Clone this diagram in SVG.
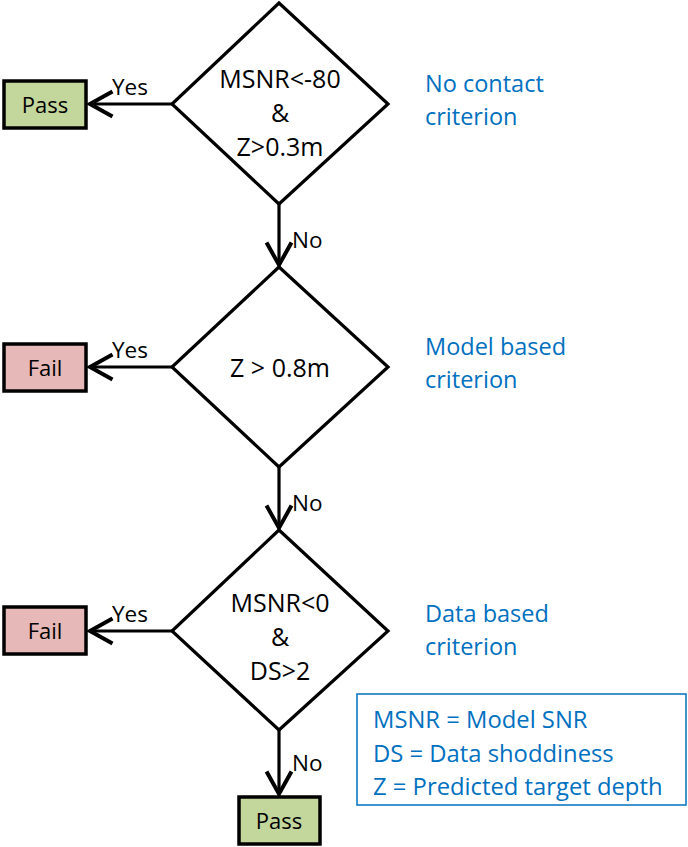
<svg xmlns="http://www.w3.org/2000/svg" width="688" height="847" viewBox="0 0 688 847">
<defs>
<marker id="arr" markerUnits="userSpaceOnUse" markerWidth="30" markerHeight="30" viewBox="-20 -12 24 24" refX="0" refY="0" orient="auto">
<polyline points="-18,-10 0,0 -18,10" fill="none" stroke="#000" stroke-width="3.2" stroke-linejoin="miter"/>
</marker>
</defs>
<style>
.d{fill:#fff;stroke:#000;stroke-width:3.2;stroke-linejoin:miter}
.pass{fill:#c3d69b;stroke:#000;stroke-width:3.5}
.fail{fill:#e6b9b8;stroke:#000;stroke-width:3.5}
.t{font-family:"Open Sans","Liberation Sans",sans-serif;font-size:25px;fill:#000;text-anchor:middle}
.bx{font-family:"Open Sans","Liberation Sans",sans-serif;font-size:22px;fill:#000;text-anchor:middle}
.l{font-family:"Open Sans","Liberation Sans",sans-serif;font-size:22.5px;fill:#000}
.b{font-family:"Open Sans","Liberation Sans",sans-serif;font-size:23.5px;fill:#0070c0}
.g{font-family:"Open Sans","Liberation Sans",sans-serif;font-size:23.8px;fill:#0070c0}
.c{fill:none;stroke:#000;stroke-width:3.2}
</style>
<g id="connectors">
<line class="c" x1="172" y1="104" x2="90" y2="104" marker-end="url(#arr)"/>
<line class="c" x1="172" y1="367" x2="90" y2="367" marker-end="url(#arr)"/>
<line class="c" x1="172" y1="631" x2="90" y2="631" marker-end="url(#arr)"/>
<line class="c" x1="279" y1="204" x2="279" y2="265" marker-end="url(#arr)"/>
<line class="c" x1="279" y1="467" x2="279" y2="528" marker-end="url(#arr)"/>
<line class="c" x1="279" y1="730" x2="279" y2="794" marker-end="url(#arr)"/>
<text class="l" x="112" y="95">Yes</text>
<text class="l" x="112" y="358">Yes</text>
<text class="l" x="112" y="622">Yes</text>
<text class="l" x="292" y="248">No</text>
<text class="l" x="292" y="511">No</text>
<text class="l" x="292" y="771">No</text>
</g>
<g id="d1">
<polygon class="d" points="279,3 388,104 279,204 172,104"/>
<text class="t" x="280" y="88">MSNR&lt;-80</text>
<text class="t" x="280" y="122">&amp;</text>
<text class="t" x="280" y="156">Z&gt;0.3m</text>
</g>
<g id="d2">
<polygon class="d" points="279,267 388,367 279,467 172,367"/>
<text class="t" x="280" y="377">Z &gt; 0.8m</text>
</g>
<g id="d3">
<polygon class="d" points="279,530 388,631 279,730 172,631"/>
<text class="t" x="280" y="612">MSNR&lt;0</text>
<text class="t" x="280" y="646">&amp;</text>
<text class="t" x="280" y="680">DS&gt;2</text>
</g>
<g id="pass1">
<rect class="pass" x="4" y="81" width="82" height="47"/>
<text class="bx" x="45" y="113">Pass</text>
</g>
<g id="fail2">
<rect class="fail" x="4" y="344" width="82" height="47"/>
<text class="bx" x="45" y="376">Fail</text>
</g>
<g id="fail3">
<rect class="fail" x="4" y="607" width="82" height="47"/>
<text class="bx" x="45" y="639">Fail</text>
</g>
<g id="pass4">
<rect class="pass" x="239" y="797" width="81" height="47"/>
<text class="bx" x="279" y="829">Pass</text>
</g>
<g id="label1">
<text class="b" x="425" y="92">No contact</text>
<text class="b" x="425" y="125">criterion</text>
</g>
<g id="label2">
<text class="b" x="425" y="355">Model based</text>
<text class="b" x="425" y="388">criterion</text>
</g>
<g id="label3">
<text class="b" x="425" y="622">Data based</text>
<text class="b" x="425" y="655">criterion</text>
</g>
<g id="legend">
<rect x="357" y="694" width="329" height="111" fill="#fff" stroke="#0070c0" stroke-width="1.5"/>
<text class="g" x="373" y="728">MSNR = Model SNR</text>
<text class="g" x="373" y="762">DS = Data shoddiness</text>
<text class="g" x="373" y="795">Z = Predicted target depth</text>
</g>
</svg>
